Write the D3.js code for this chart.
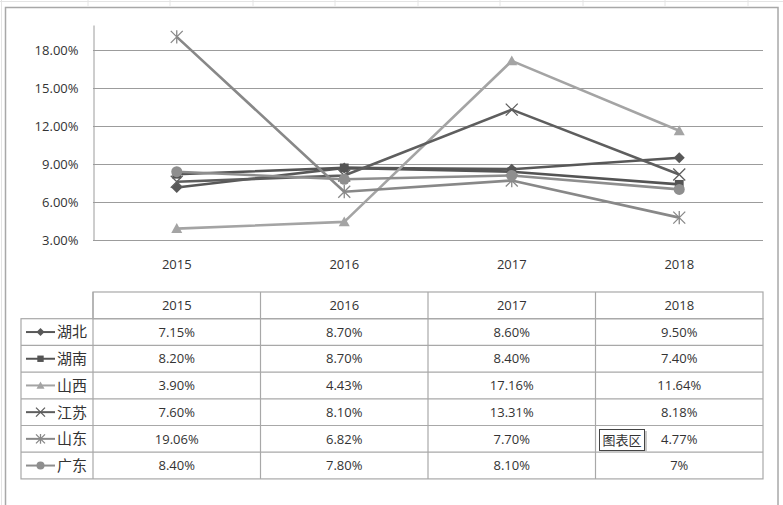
<!DOCTYPE html>
<html>
<head>
<meta charset="utf-8">
<script src="https://cdn.jsdelivr.net/npm/d3@7"></script>
<style>
  html, body { margin: 0; padding: 0; background: #fff; }
  svg { display: block; }
  text { font-family: "Open Sans", "Noto Sans", "Noto Sans CJK SC", sans-serif; fill: #333; }
</style>
</head>
<body>
<svg id="grafico" width="783" height="505"></svg>
<script>
// datos del gráfico
const years = ["2015", "2016", "2017", "2018"];
const provinces = ["湖北", "湖南", "山西", "江苏", "山东", "广东"];
const hubei = [0.0715, 0.087, 0.086, 0.095];
const hunan = [0.082, 0.087, 0.084, 0.074];
const shanxi = [0.039, 0.0443, 0.1716, 0.1164];
const jiangsu = [0.076, 0.081, 0.1331, 0.0818];
const shandong = [0.1906, 0.0682, 0.077, 0.0477];
const guangdong = [0.084, 0.078, 0.081, 0.07];
// texto de la tabla tal como aparece
const tableText = [
  ["7.15%", "8.70%", "8.60%", "9.50%"],
  ["8.20%", "8.70%", "8.40%", "7.40%"],
  ["3.90%", "4.43%", "17.16%", "11.64%"],
  ["7.60%", "8.10%", "13.31%", "8.18%"],
  ["19.06%", "6.82%", "7.70%", "4.77%"],
  ["8.40%", "7.80%", "8.10%", "7%"]
];
const yTicks = [0.03, 0.06, 0.09, 0.12, 0.15, 0.18];

const seriesValues = [hubei, hunan, shanxi, jiangsu, shandong, guangdong];
const colors = ["#585858", "#545454", "#a4a4a4", "#5e5e5e", "#888888", "#8e8e8e"];
const markers = ["diamond", "square", "triangle", "x", "star", "circle"];

const svg = d3.select("#grafico");

// celdas de Excel de fondo (muy tenues)
const bg = svg.append("g").attr("stroke", "#e4e4e4").attr("stroke-width", 1);
bg.append("line").attr("x1", 0).attr("x2", 783).attr("y1", 1.5).attr("y2", 1.5);
bg.append("line").attr("x1", 1.5).attr("x2", 1.5).attr("y1", 0).attr("y2", 505);
[88, 170, 253, 335, 418, 500, 583, 665, 748].forEach(x => {
  bg.append("line").attr("x1", x).attr("x2", x).attr("y1", 0).attr("y2", 6);
});

// marco del área del gráfico
svg.append("rect")
  .attr("x", 5.5).attr("y", 7.5)
  .attr("width", 772.5).attr("height", 505)
  .attr("fill", "#fff")
  .attr("stroke", "#a8a8a8").attr("stroke-width", 1.5);

// escalas
const x = d3.scaleBand().domain(years).range([93, 763]);
const y = d3.scaleLinear().domain([0.03, 0.20]).range([240, 25]);

// líneas de cuadrícula
svg.append("g")
  .selectAll("line")
  .data(yTicks)
  .join("line")
  .attr("x1", 93).attr("x2", 763)
  .attr("y1", d => Math.round(y(d)) + 0.5).attr("y2", d => Math.round(y(d)) + 0.5)
  .attr("stroke", "#9c9c9c").attr("stroke-width", 1);

// eje Y
const yAxis = svg.append("g")
  .attr("transform", "translate(93.5,0)")
  .call(d3.axisLeft(y).tickValues(yTicks).tickFormat(d3.format(".2%")).tickSize(0).tickPadding(15));
yAxis.select(".domain").attr("stroke", "#9c9c9c");
yAxis.selectAll("text").style("font-size", "13px").attr("fill", "#333");

// eje X (solo etiquetas)
const xAxis = svg.append("g")
  .attr("transform", "translate(0,240.5)")
  .call(d3.axisBottom(x).tickSize(0).tickPadding(19));
xAxis.select(".domain").remove();
xAxis.selectAll("text").style("font-size", "13px").attr("fill", "#333");

// símbolos
function drawMarker(g, type, color, size) {
  const s = size;
  if (type === "diamond") {
    g.append("path").attr("d", `M0,${-s}L${s},0L0,${s}L${-s},0Z`).attr("fill", color);
  } else if (type === "square") {
    g.append("rect").attr("x", -s * 0.8).attr("y", -s * 0.8).attr("width", s * 1.6).attr("height", s * 1.6).attr("fill", color);
  } else if (type === "triangle") {
    g.append("path").attr("d", `M0,${-s}L${s},${s * 0.8}L${-s},${s * 0.8}Z`).attr("fill", color);
  } else if (type === "x") {
    g.append("path").attr("d", `M${-s},${-s}L${s},${s}M${-s},${s}L${s},${-s}`).attr("stroke", color).attr("stroke-width", 1.3);
  } else if (type === "star") {
    g.append("path").attr("d", `M${-s},${-s}L${s},${s}M${-s},${s}L${s},${-s}M0,${-s * 1.1}L0,${s * 1.1}`).attr("stroke", color).attr("stroke-width", 1.3);
  } else {
    g.append("circle").attr("r", s).attr("fill", color);
  }
}

const line = d3.line()
  .x((d, i) => x(years[i]) + x.bandwidth() / 2)
  .y(d => y(d));

const series = svg.append("g").selectAll("g")
  .data(seriesValues)
  .join("g");

series.append("path")
  .attr("d", d => line(d))
  .attr("fill", "none")
  .attr("stroke", (d, i) => colors[i])
  .attr("stroke-width", 2.6)
  .attr("stroke-linejoin", "round");

series.each(function(vals, i) {
  const g = d3.select(this);
  vals.forEach((v, j) => {
    const m = g.append("g").attr("transform", `translate(${x(years[j]) + x.bandwidth() / 2},${y(v)})`);
    drawMarker(m, markers[i], colors[i], markers[i] === "x" || markers[i] === "star" ? 6 : 5.5);
  });
});

// tabla de datos
const rowH = 26.7;
const headTop = 292;
const legendLeft = 21;
const tbl = svg.append("g").attr("stroke", "#a8a8a8").attr("stroke-width", 1.2).attr("fill", "none");

// fila de encabezado
tbl.append("rect").attr("x", 93).attr("y", headTop).attr("width", 670).attr("height", rowH);
// cuerpo
tbl.append("rect").attr("x", legendLeft).attr("y", headTop + rowH).attr("width", 763 - legendLeft).attr("height", rowH * provinces.length);
provinces.forEach((p, i) => {
  if (i > 0) {
    tbl.append("line").attr("x1", legendLeft).attr("x2", 763)
      .attr("y1", headTop + rowH * (i + 1)).attr("y2", headTop + rowH * (i + 1));
  }
});
years.forEach((yr, j) => {
  const xx = x(yr);
  tbl.append("line").attr("x1", xx).attr("x2", xx)
    .attr("y1", headTop).attr("y2", headTop + rowH * (provinces.length + 1));
});

const tblText = svg.append("g").style("font-size", "13px");
years.forEach(yr => {
  tblText.append("text")
    .attr("x", x(yr) + x.bandwidth() / 2).attr("y", headTop + rowH / 2)
    .attr("dy", "0.36em").attr("text-anchor", "middle").text(yr);
});
tableText.forEach((row, i) => {
  const cy = headTop + rowH * (i + 1) + rowH / 2;
  row.forEach((t, j) => {
    tblText.append("text")
      .attr("x", x(years[j]) + x.bandwidth() / 2).attr("y", cy)
      .attr("dy", "0.36em").attr("text-anchor", "middle").text(t);
  });
  // clave de leyenda
  const k = svg.append("g");
  k.append("line").attr("x1", 26).attr("x2", 55).attr("y1", cy).attr("y2", cy)
    .attr("stroke", colors[i]).attr("stroke-width", 2);
  const m = k.append("g").attr("transform", `translate(40.5,${cy})`);
  drawMarker(m, markers[i], colors[i], markers[i] === "x" || markers[i] === "star" ? 4.5 : 4);
  k.append("text").attr("x", 57).attr("y", cy).attr("dy", "0.36em")
    .style("font-family", "'Noto Sans CJK SC', sans-serif").style("font-size", "15px")
    .text(provinces[i]);
});

// etiqueta emergente "图表区"
const tip = svg.append("g").attr("transform", "translate(599,429)");
tip.append("rect").attr("x", 2).attr("y", 2).attr("width", 46).attr("height", 22).attr("fill", "#c8c8c8");
tip.append("rect").attr("x", 0.5).attr("y", 0.5).attr("width", 45).attr("height", 21)
  .attr("fill", "#fff").attr("stroke", "#444").attr("stroke-width", 1);
tip.append("text").attr("x", 23).attr("y", 11).attr("dy", "0.36em").attr("text-anchor", "middle")
  .style("font-family", "'Noto Sans CJK SC', sans-serif").style("font-size", "13px").attr("fill", "#222")
  .text("图表区");
</script>
</body>
</html>
